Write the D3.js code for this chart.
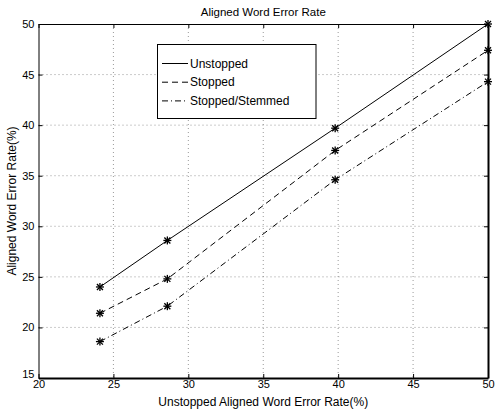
<!DOCTYPE html>
<html>
<head>
<meta charset="utf-8">
<script src="https://cdn.jsdelivr.net/npm/d3@7"></script>
<style>
  body { margin: 0; background: #fff; }
  svg { display: block; font-family: "Liberation Sans", Arial, sans-serif; }
</style>
</head>
<body>
<svg id="chart" width="495" height="412"></svg>
<script>
"use strict";

// data
var xValues = [24.1, 28.6, 39.8, 50];
var unstopped = [24.0, 28.6, 39.7, 50];
var stopped = [21.4, 24.8, 37.5, 47.4];
var stemmed = [18.6, 22.1, 34.6, 44.3];
var seriesNames = ["Unstopped", "Stopped", "Stopped/Stemmed"];
var xTicks = [20, 25, 30, 35, 40, 45, 50];
var yTicks = [15, 20, 25, 30, 35, 40, 45, 50];

var dashes = ["none", "6,4", "6,3,1,3"];

var svg = d3.select("#chart");
var plotL = 38.5, plotR = 488, plotT = 24, plotB = 378;

var x = d3.scaleLinear().domain([20, 50]).range([plotL, plotR]);
var y = d3.scaleLinear().domain([15, 50]).range([plotB, plotT]);

// grid
var grid = svg.append("g").attr("stroke", "#555").attr("stroke-width", 0.6)
  .attr("stroke-dasharray", "1,3");
xTicks.slice(1, -1).forEach(function(t) {
  grid.append("line").attr("x1", x(t)).attr("x2", x(t)).attr("y1", plotT).attr("y2", plotB);
});
yTicks.slice(1, -1).forEach(function(t) {
  grid.append("line").attr("x1", plotL).attr("x2", plotR).attr("y1", y(t)).attr("y2", y(t));
});

// axes (ticks inward, matlab style)
var xAxis = svg.append("g").attr("transform", "translate(0," + plotB + ")")
  .call(d3.axisBottom(x).tickValues(xTicks).tickSizeInner(-4).tickSizeOuter(0).tickPadding(2));
var xAxisTop = svg.append("g").attr("transform", "translate(0," + plotT + ")")
  .call(d3.axisTop(x).tickValues(xTicks).tickSizeInner(-4).tickSizeOuter(0).tickFormat(""));
var yAxis = svg.append("g").attr("transform", "translate(" + plotL + ",0)")
  .call(d3.axisLeft(y).tickValues(yTicks).tickSizeInner(-4).tickSizeOuter(0).tickPadding(4));
var yAxisRight = svg.append("g").attr("transform", "translate(" + plotR + ",0)")
  .call(d3.axisRight(y).tickValues(yTicks).tickSizeInner(-4).tickSizeOuter(0).tickFormat(""));

[xAxis, xAxisTop, yAxis, yAxisRight].forEach(function(a) {
  a.selectAll("text").attr("font-size", 11).attr("fill", "#000")
    .attr("font-family", "Liberation Sans, Arial, sans-serif");
  a.select(".domain").attr("stroke", "#000");
});
xAxis.select(".domain").attr("stroke-width", 2);
yAxisRight.select(".domain").attr("stroke-width", 2);
// matlab pushes the lowest y label up a bit
yAxis.selectAll(".tick").filter(function(d) { return d === 15; })
  .select("text").attr("dy", "-0.05em");

// lines
var line = d3.line().x(function(d) { return x(d[0]); }).y(function(d) { return y(d[1]); });
[unstopped, stopped, stemmed].forEach(function(vals, i) {
  var pts = xValues.map(function(v, j) { return [v, vals[j]]; });
  svg.append("path").datum(pts).attr("d", line).attr("fill", "none")
    .attr("stroke", "#000").attr("stroke-width", 1).attr("stroke-dasharray", dashes[i]);

  // asterisk markers
  pts.forEach(function(p) {
    var cx = x(p[0]), cy = y(p[1]), r = 4;
    var m = svg.append("g").attr("stroke", "#000").attr("stroke-width", 1.3);
    m.append("line").attr("x1", cx - r).attr("x2", cx + r).attr("y1", cy).attr("y2", cy);
    m.append("line").attr("x1", cx).attr("x2", cx).attr("y1", cy - r).attr("y2", cy + r);
    m.append("line").attr("x1", cx - r * 0.75).attr("x2", cx + r * 0.75).attr("y1", cy - r * 0.75).attr("y2", cy + r * 0.75);
    m.append("line").attr("x1", cx - r * 0.75).attr("x2", cx + r * 0.75).attr("y1", cy + r * 0.75).attr("y2", cy - r * 0.75);
  });
});

// legend
var lg = svg.append("g");
lg.append("rect").attr("x", 157.5).attr("y", 44.5).attr("width", 158.5).attr("height", 74)
  .attr("fill", "#fff").attr("stroke", "#000").attr("stroke-width", 1);
seriesNames.forEach(function(name, i) {
  var ly = 63.5 + i * 18.7;
  lg.append("line").attr("x1", 162).attr("x2", 188).attr("y1", ly).attr("y2", ly)
    .attr("stroke", "#000").attr("stroke-dasharray", dashes[i]);
  lg.append("text").attr("x", 190).attr("y", ly).attr("dy", "0.35em")
    .attr("font-size", 12).text(name);
});

// titles
svg.append("text").attr("x", (plotL + plotR) / 2).attr("y", 15.5).attr("text-anchor", "middle")
  .attr("font-size", 11.5).text("Aligned Word Error Rate");
svg.append("text").attr("x", (plotL + plotR) / 2).attr("y", 406).attr("text-anchor", "middle")
  .attr("font-size", 12).text("Unstopped Aligned Word Error Rate(%)");
svg.append("text").attr("transform", "translate(16," + ((plotT + plotB) / 2) + ") rotate(-90)")
  .attr("text-anchor", "middle").attr("font-size", 12).text("Aligned Word Error Rate(%)");
</script>
</body>
</html>
